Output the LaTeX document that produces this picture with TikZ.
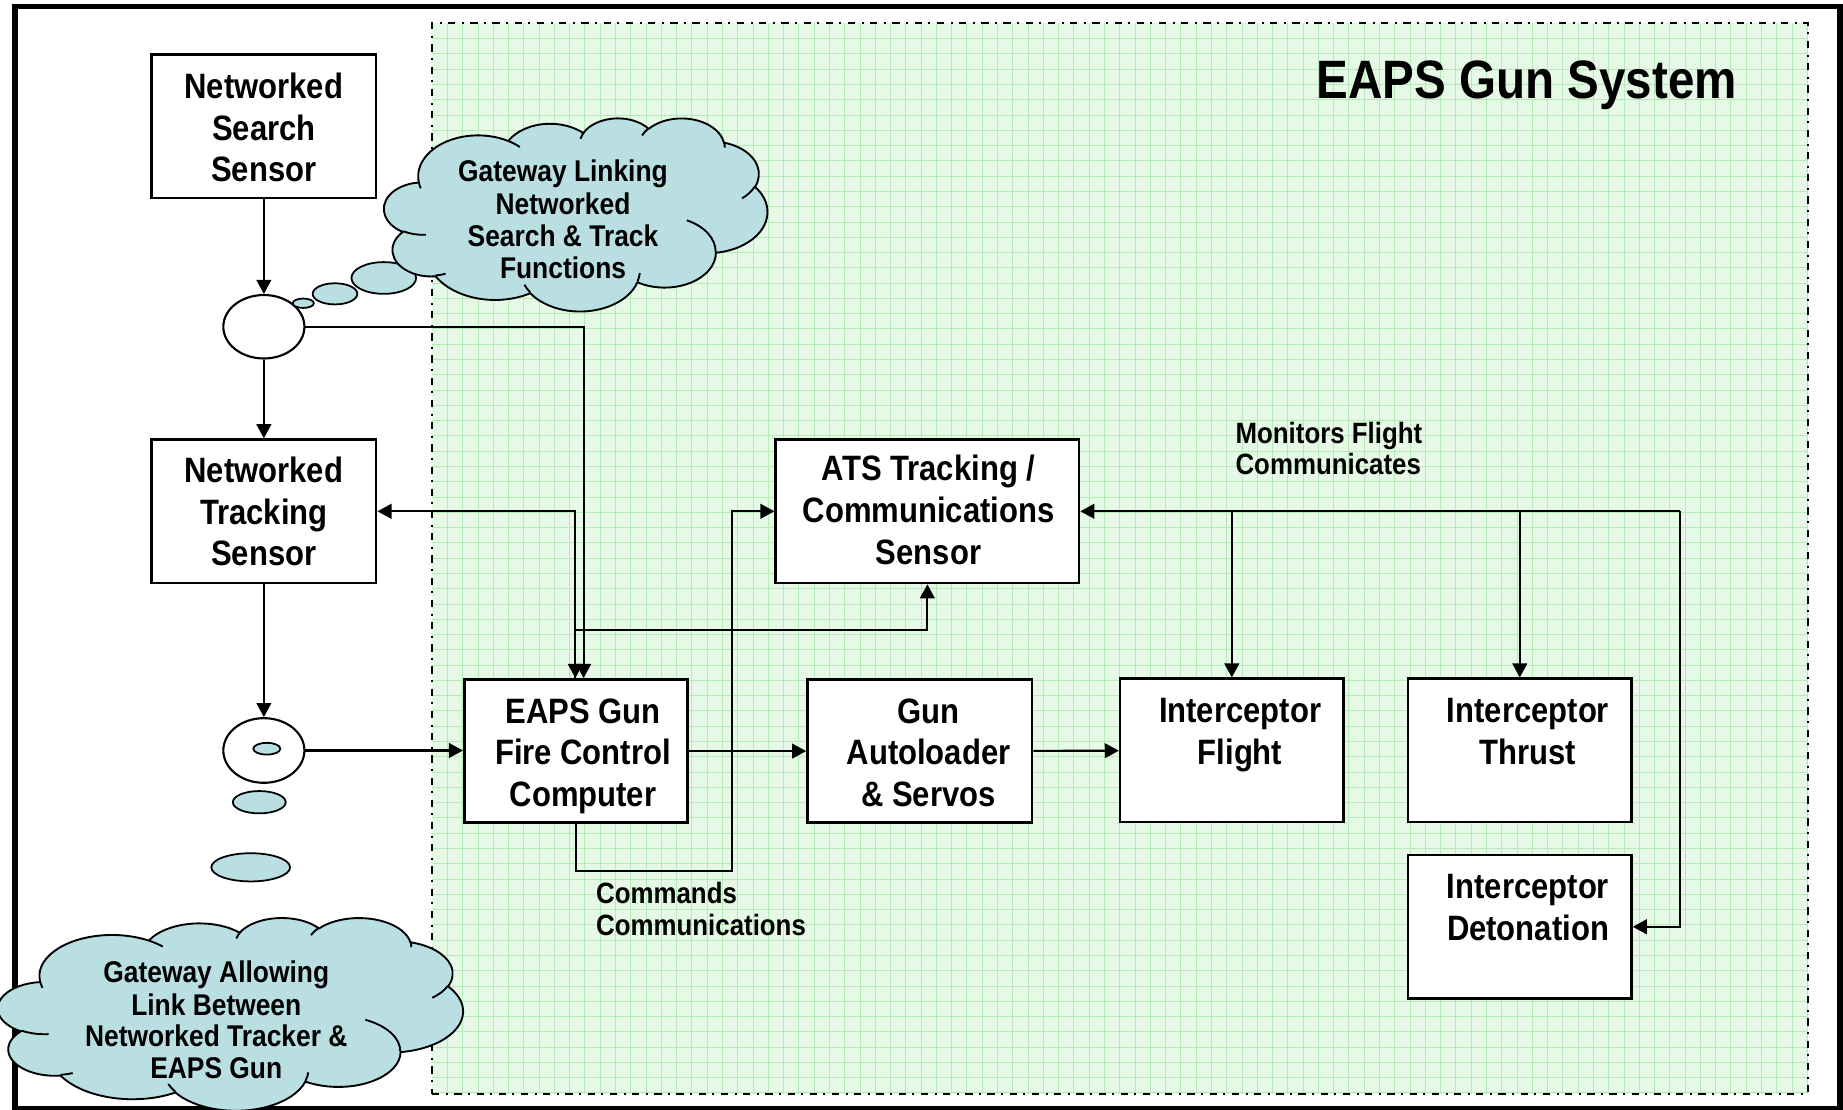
\documentclass[tikz,border=0pt]{standalone}
\usepackage{fontspec}
\setmainfont{Liberation Sans}[FakeStretch=0.88]
\usetikzlibrary{shapes.geometric,arrows.meta}

\definecolor{paper}{RGB}{230,249,230}
\definecolor{paperline}{RGB}{182,234,182}
\definecolor{cloudblue}{RGB}{185,223,227}

% strut whose vertical middle sits at cap-height middle
\newcommand\ls{\rule[-0.2\baselineskip]{0pt}{\baselineskip}}

\tikzset{
  tip/.tip={Triangle[length=12pt,width=12.5pt]},
  conn/.style={line width=1.8pt,-tip},
  conntwo/.style={line width=1.8pt,tip-tip},
  gridline/.style={paperline,line width=0.7pt},
  block/.style={draw,line width=2.2pt,fill=white,minimum width=191pt,minimum height=122pt,inner sep=0pt},
  blocktext/.style={font=\bfseries\fontsize{30}{35.5}\selectfont,align=center,inner sep=0pt},
  notetext/.style={font=\bfseries\fontsize{25}{27}\selectfont,align=left,inner sep=0pt,anchor=west},
  cloudtext/.style={font=\bfseries\fontsize{25.5}{27}\selectfont,align=center,inner sep=0pt},
  junction/.style={draw,ellipse,line width=1.8pt,fill=white,inner sep=0pt},
  bubble/.style={draw,ellipse,line width=1.5pt,fill=cloudblue,inner sep=0pt},
  cloudline/.style={line width=1.6pt,line join=round},
  % elliptic arc given by radii and visual start angle / sweep
  cloudarc/.style n args={4}{/utils/exec={%
      \pgfmathsetmacro\cloudta{atan2((#1)*sin(#3),(#2)*cos(#3))}%
      \pgfmathsetmacro\cloudtb{atan2((#1)*sin((#3)+(#4)),(#2)*cos((#3)+(#4)))}%
      \pgfmathsetmacro\cloudtd{mod(\cloudtb-\cloudta+720,360)}},
    insert path/.expanded={arc[start angle=\cloudta,delta angle=\cloudtd,x radius=#1,y radius=#2]}},
  pics/puffcloud/.style={code={
    \filldraw[cloudline,fill=cloudblue] (39.00,143.70)
      [cloudarc={67.53}{91.90}{-190.49}{123.78}]
      [cloudarc={53.33}{72.67}{-144.10}{89.95}]
      [cloudarc={43.65}{59.45}{-145.81}{99.72}]
      [cloudarc={48.57}{65.95}{-130.99}{117.24}]
      [cloudarc={53.33}{72.73}{-78.71}{109.03}]
      [cloudarc={67.75}{92.20}{-46.27}{130.27}]
      [cloudarc={57.85}{78.67}{0.63}{114.03}]
      [cloudarc={67.52}{92.15}{22.45}{115.17}]
      [cloudarc={77.20}{105.43}{66.24}{75.71}]
      [cloudarc={43.60}{59.18}{-274.94}{146.74}]
      [cloudarc={43.45}{59.45}{-246.83}{152.52}] -- cycle;
    \draw[cloudline]
      (46.93,261.77) [cloudarc={43.45}{59.45}{86.74}{26.43}]
      (69.28,348.99) [cloudarc={43.60}{59.18}{73.61}{11.45}]
      (164.78,390.90) [cloudarc={67.52}{92.15}{137.62}{14.08}]
      (288.27,347.51) [cloudarc={67.52}{92.15}{6.45}{16.00}]
      (341.29,229.54) [cloudarc={57.85}{78.67}{-70.29}{70.92}]
      (417.98,153.54) [cloudarc={53.33}{72.73}{30.32}{27.75}]
      (383.24,54.26) [cloudarc={48.57}{65.95}{-13.74}{14.86}]
      (290.78,39.52) [cloudarc={48.57}{65.95}{-149.18}{18.20}]
      (221.41,47.20) [cloudarc={43.65}{59.45}{-163.49}{17.69}]
      (140.00,51.92) [cloudarc={67.53}{91.90}{-66.71}{12.32}]
      (41.27,157.89) [cloudarc={67.53}{91.90}{157.65}{11.86}];
  }},
}

\begin{document}
\begin{tikzpicture}[x=1pt,y=-1pt]
\useasboundingbox (0,0) rectangle (1568,944);

% outer frame
\node[draw,line width=5pt,minimum width=1552.5pt,minimum height=938pt,inner sep=0pt] (frame) at (789.25,474.5) {};

% gun system area: tinted grid paper with dash-dot border
\fill[paper] (367.6,19.8) rectangle (1538,930.7);
\foreach \i in {1,...,90} \draw[gridline] (367.6+13*\i,19.8) -- (367.6+13*\i,930.7);
\foreach \j in {1,...,70} \draw[gridline] (367.6,19.8+13*\j) -- (1538,19.8+13*\j);
\node[draw,line width=1.5pt,dash pattern=on 6.2pt off 5.5pt on 1.7pt off 5.5pt,
      minimum width=1170.4pt,minimum height=910.9pt,inner sep=0pt] (system) at (952.8,475.25) {};
\node[font=\bfseries\fontsize{46}{55}\selectfont,inner sep=0pt] (title) at (1299,67) {\ls EAPS Gun System};

% blocks
\node[block] (nss) at (224.5,107.5) {};
\node[block] (nts) at (224.5,435) {};
\node[block,minimum width=258pt] (ats) at (789,435) {};
\node[block,minimum width=190pt] (fcc) at (490,639) {};
\node[block] (auto) at (782.5,639) {};
\node[block,minimum width=190pt] (flight) at (1048,638.5) {};
\node[block,minimum width=190pt] (thrust) at (1293,638.5) {};
\node[block,minimum width=190pt] (det) at (1293,788.5) {};

% gateway junctions
\node[junction,minimum width=69pt,minimum height=54pt] (gwtop) at (224.5,278) {};
\node[junction,minimum width=69pt,minimum height=55pt] (gwlow) at (224.5,638.5) {};

% connectors
\draw[conn] (nss) -- (gwtop);
\draw[conn] (gwtop) -- (nts);
\draw[conn] (nts) -- (gwlow);
\draw[conn] (gwtop.east) -| ([xshift=6.5pt]fcc.north);
\draw[conntwo] (nts.east) -| ([xshift=-0.5pt]fcc.north);
\draw[conn] ([xshift=-0.5pt]fcc.north) -- ++(0,-41) -| (ats.south);
\coordinate (cmdbend) at (622.5,741);
\draw[conn] (fcc.south) |- (cmdbend) |- (ats.west);
\draw[conn] (gwlow.east) -- (gwlow.east -| fcc.west);
\draw[conn] (fcc) -- (auto);
\draw[conn] (auto) -- (flight);
\coordinate (bus) at (1429,435);
\draw[conn] (bus) -- (ats.east);
\draw[conn] (bus) |- (det.east);
\draw[conn] (flight.north |- bus) -- (flight.north);
\draw[conn] (thrust.north |- bus) -- (thrust.north);

% block captions
\node[blocktext] (nss-t) at (224.5,108.5) {\ls Networked\\\ls Search\\\ls Sensor};
\node[blocktext] (nts-t) at (224.5,435.3) {\ls Networked\\\ls Tracking\\\ls Sensor};
\node[blocktext] (ats-t) at (790,434) {\ls ATS Tracking /\\\ls Communications\\\ls Sensor};
\node[blocktext] (fcc-t) at (496,640) {\ls EAPS Gun\\\ls Fire Control\\\ls Computer};
\node[blocktext] (auto-t) at (790,640) {\ls Gun\\\ls Autoloader\\\ls \& Servos};
\node[blocktext] (flight-t) at (1055,622) {\ls Interceptor\\\ls Flight};
\node[blocktext] (thrust-t) at (1300,622) {\ls Interceptor\\\ls Thrust};
\node[blocktext] (det-t) at (1300,771.5) {\ls Interceptor\\\ls Detonation};

% connector notes
\node[notetext] (monitors) at (1051,382.5) {\ls Monitors Flight\\\ls Communicates};
\node[notetext] (commands) at (507,774.5) {\ls Commands\\\ls Communications};

% upper thought cloud
\node[bubble,minimum width=18pt,minimum height=8pt] (b1a) at (258,258) {};
\node[bubble,minimum width=38pt,minimum height=18pt] (b1b) at (285,250) {};
\node[bubble,minimum width=55pt,minimum height=27pt] (b1c) at (326.5,236.5) {};
\pic[xscale=0.7547,yscale=0.3802] (cloudup) at (326.8,100.2) {puffcloud};
\node[cloudtext] (cloudup-t) at (479,187.5) {\ls Gateway Linking\\\ls Networked\\\ls Search \& Track\\\ls Functions};

% lower thought cloud
\node[bubble,minimum width=23pt,minimum height=10pt] (b2a) at (227,637) {};
\node[bubble,minimum width=45pt,minimum height=19pt] (b2b) at (220.6,682.5) {};
\node[bubble,minimum width=67pt,minimum height=24pt] (b2c) at (213.3,737.9) {};
\pic[xscale=0.9154,yscale=0.3795] (clouddown) at (-1.6,780.5) {puffcloud};
\node[cloudtext] (clouddown-t) at (184,868.5) {\ls Gateway Allowing\\\ls Link Between\\\ls Networked Tracker \&\\\ls EAPS Gun};

\end{tikzpicture}
\end{document}
